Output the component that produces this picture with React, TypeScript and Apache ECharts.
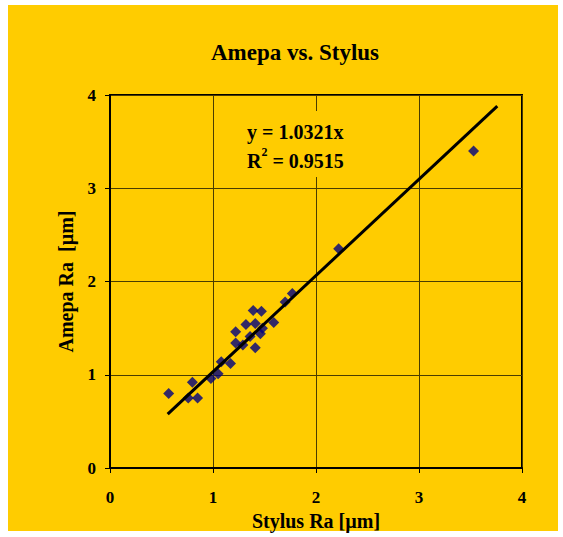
import React, { useEffect, useRef } from "react";
import * as echarts from "echarts";

const stylusRa = [0.57, 0.80, 0.76, 0.85, 0.98, 1.05, 1.08, 1.17, 1.22, 1.22, 1.29, 1.32, 1.39, 1.47, 1.41, 1.41, 1.46, 1.48, 1.36, 1.59, 1.70, 1.77, 2.22, 3.53];
const amepaRa = [0.80, 0.92, 0.75, 0.75, 0.96, 1.01, 1.14, 1.12, 1.46, 1.34, 1.32, 1.54, 1.69, 1.68, 1.55, 1.29, 1.44, 1.50, 1.41, 1.56, 1.78, 1.87, 2.35, 3.40];
const trendSlope = 1.0321;
const trendXRange = [0.56, 3.76];
const axisTicks = [0, 1, 2, 3, 4];
const chartTitle = "Amepa vs. Stylus";
const xTitle = "Stylus Ra [µm]";
const yTitle = "Amepa Ra  [µm]";
const eqText = "y = 1.0321x";
const r2Label = "R";
const r2Sup = "2";
const r2Value = " = 0.9515";

const FONT = "'Liberation Serif', 'Times New Roman', serif";
const YELLOW = "#FFCC00";

export default function App() {
  const ref = useRef<HTMLDivElement>(null);
  useEffect(() => {
    if (!ref.current) return;
    const chart = echarts.init(ref.current, undefined, { renderer: "svg" });
    const points = stylusRa.map((x, i) => [x, amepaRa[i]]);
    const trend = trendXRange.map((x) => [x, trendSlope * x]);
    const gridColor = "#4a3c00";
    const axisCommon = {
      type: "value" as const,
      min: axisTicks[0],
      max: axisTicks[axisTicks.length - 1],
      interval: 1,
      nameLocation: "middle" as const,
      nameTextStyle: { fontFamily: FONT, fontWeight: "bold", fontSize: 20, color: "#000" },
      axisLine: { show: true, onZero: false, lineStyle: { color: "#000", width: 2 } },
      axisTick: { show: true, inside: false, length: 5, lineStyle: { color: "#000", width: 1 } },
      axisLabel: { fontFamily: FONT, fontWeight: "bold", fontSize: 17, color: "#000" },
      splitLine: { show: true, lineStyle: { color: gridColor, width: 1 } },
    };
    chart.setOption({
      animation: false,
      backgroundColor: "transparent",
      title: {
        text: chartTitle,
        left: 290,
        textAlign: "center",
        top: 36,
        textStyle: { fontFamily: FONT, fontWeight: "bold", fontSize: 23, color: "#000" },
      },
      grid: {
        left: 110,
        right: 41,
        top: 95,
        bottom: 69,
        show: true,
        borderColor: "#000",
        borderWidth: 2,
        backgroundColor: "transparent",
      },
      xAxis: {
        ...axisCommon,
        name: xTitle,
        nameGap: 42,
        axisLabel: { ...axisCommon.axisLabel, margin: 21 },
      },
      yAxis: {
        ...axisCommon,
        name: yTitle,
        nameGap: 34,
        nameRotate: 90,
        axisLabel: { ...axisCommon.axisLabel, margin: 14 },
      },
      graphic: [
        {
          type: "rect",
          shape: { x: 236, y: 111, width: 118, height: 66 },
          style: { fill: YELLOW },
          z: 50,
        },
        {
          type: "text",
          x: 247,
          y: 117,
          z: 51,
          style: {
            text: "{b|" + eqText + "}\n{b|" + r2Label + "}{s|" + r2Sup + "}{b|" + r2Value + "}",
            rich: {
              b: { fontFamily: FONT, fontWeight: "bold", fontSize: 20, lineHeight: 29, fill: "#000", color: "#000" },
              s: { fontFamily: FONT, fontWeight: "bold", fontSize: 12, lineHeight: 29, verticalAlign: "top", padding: [0, 0, 9, 0], fill: "#000", color: "#000" },
            },
            fill: "#000",
          },
        },
      ],
      series: [
        {
          type: "scatter",
          data: points,
          symbol: "diamond",
          symbolSize: 11,
          itemStyle: { color: "#000080" },
          z: 3,
        },
        {
          type: "line",
          data: trend,
          showSymbol: false,
          symbol: "none",
          lineStyle: { color: "#000", width: 3 },
          z: 4,
        },
      ],
    });
    return () => chart.dispose();
  }, []);
  return (
    <div style={{ position: "fixed", left: 0, top: 0, width: 563, height: 537, background: "#fff" }}>
      <div style={{ position: "absolute", left: 8, top: 5, width: 550, height: 526, background: YELLOW }} />
      <div ref={ref} style={{ position: "absolute", left: 0, top: 0, width: 563, height: 537 }} />
    </div>
  );
}
